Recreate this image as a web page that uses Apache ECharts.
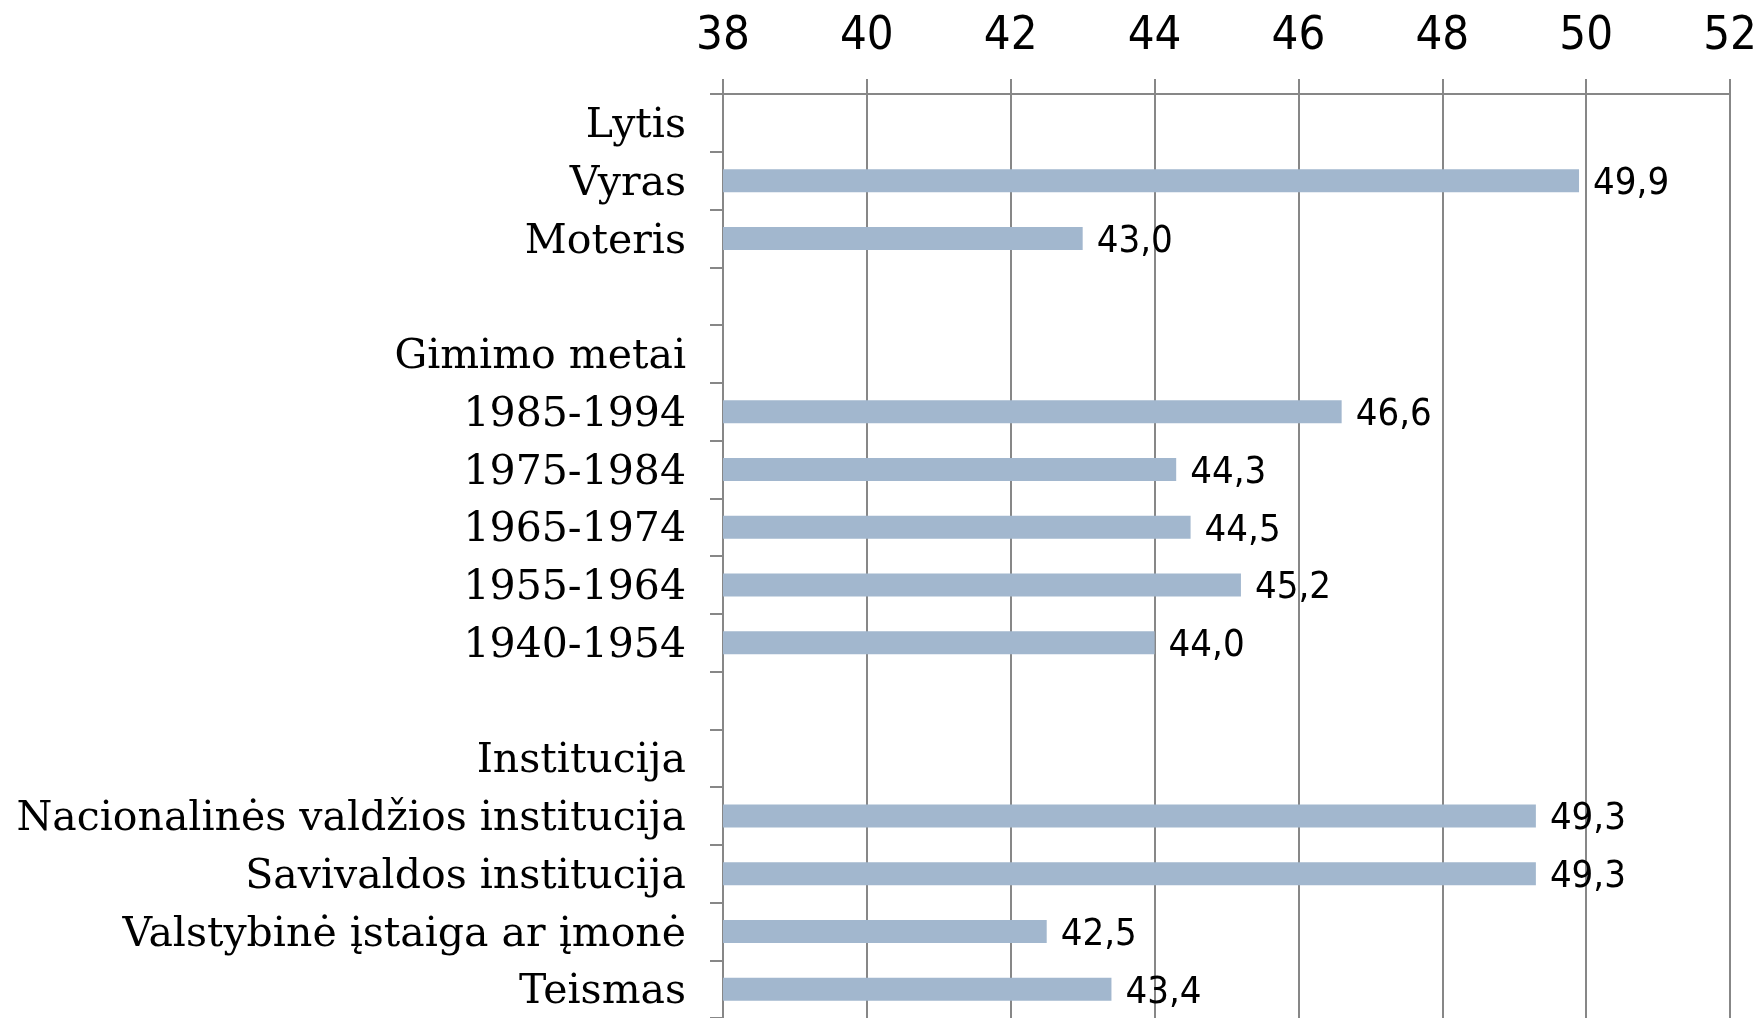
<!DOCTYPE html>
<html>
<head>
<meta charset="utf-8">
<script src="https://cdn.jsdelivr.net/npm/echarts@6/dist/echarts.min.js"></script>
<style>
  html, body { margin: 0; padding: 0; background: #ffffff; }
  #chart { width: 1760px; height: 1018px; }
</style>
</head>
<body>
<div id="chart"></div>
<script>
// Categories, top to bottom (blank rows separate the groups)
const categories = [
  'Lytis', 'Vyras', 'Moteris', ' ',
  'Gimimo metai', '1985-1994', '1975-1984', '1965-1974', '1955-1964', '1940-1954', '  ',
  'Institucija', 'Nacionalinės valdžios institucija', 'Savivaldos institucija',
  'Valstybinė įstaiga ar įmonė', 'Teismas'
];
// Values (null for header / blank rows)
const values = [
  null, 49.9, 43.0, null,
  null, 46.6, 44.3, 44.5, 45.2, 44.0, null,
  null, 49.3, 49.3, 42.5, 43.4
];
// Value axis ticks
const axisMin = 38;
const axisMax = 52;
const axisStep = 2;

const chart = echarts.init(document.getElementById('chart'), null, { renderer: 'canvas' });
const gray = '#878787';
chart.setOption({
  backgroundColor: '#ffffff',
  animation: false,
  grid: { left: 723, right: 29, top: 94, height: 926, containLabel: false },
  xAxis: {
    type: 'value',
    position: 'top',
    min: axisMin,
    max: axisMax,
    interval: axisStep,
    axisLine: { show: true, lineStyle: { color: gray, width: 2 } },
    axisTick: { show: true, length: 15, lineStyle: { color: gray, width: 2 } },
    splitLine: { show: true, lineStyle: { color: gray, width: 2 } },
    axisLabel: {
      color: '#000000',
      fontSize: 47,
      fontFamily: "'Liberation Sans Narrow', 'DejaVu Sans Condensed', 'Liberation Sans', sans-serif",
      margin: 57,
      verticalAlign: 'middle'
    }
  },
  yAxis: {
    type: 'category',
    inverse: true,
    data: categories,
    axisLine: { show: true, lineStyle: { color: gray, width: 2 } },
    axisTick: { show: true, length: 13, lineStyle: { color: gray, width: 2 } },
    splitLine: { show: false },
    axisLabel: {
      color: '#000000',
      fontSize: 41,
      fontFamily: "'DejaVu Serif', 'Liberation Serif', serif",
      margin: 37,
      formatter: v => '{s|' + v + '}',
      rich: {
        s: {
          color: '#000000',
          fontSize: 41,
          fontFamily: "'DejaVu Serif', 'Liberation Serif', serif",
          padding: [7, 0, 0, 0]
        }
      }
    }
  },
  series: [{
    type: 'bar',
    data: values,
    barWidth: 23,
    itemStyle: { color: '#a2b7ce' },
    label: {
      show: true,
      position: 'right',
      distance: 14,
      formatter: p => (p.value == null ? '' : '{v|' + Number(p.value).toFixed(1).replace('.', ',') + '}'),
      rich: {
        v: {
          color: '#000000',
          fontSize: 38,
          fontFamily: "'DejaVu Sans Condensed', 'Liberation Sans', sans-serif",
          padding: [7, 0, 0, 0]
        }
      }
    }
  }]
});
</script>
</body>
</html>
